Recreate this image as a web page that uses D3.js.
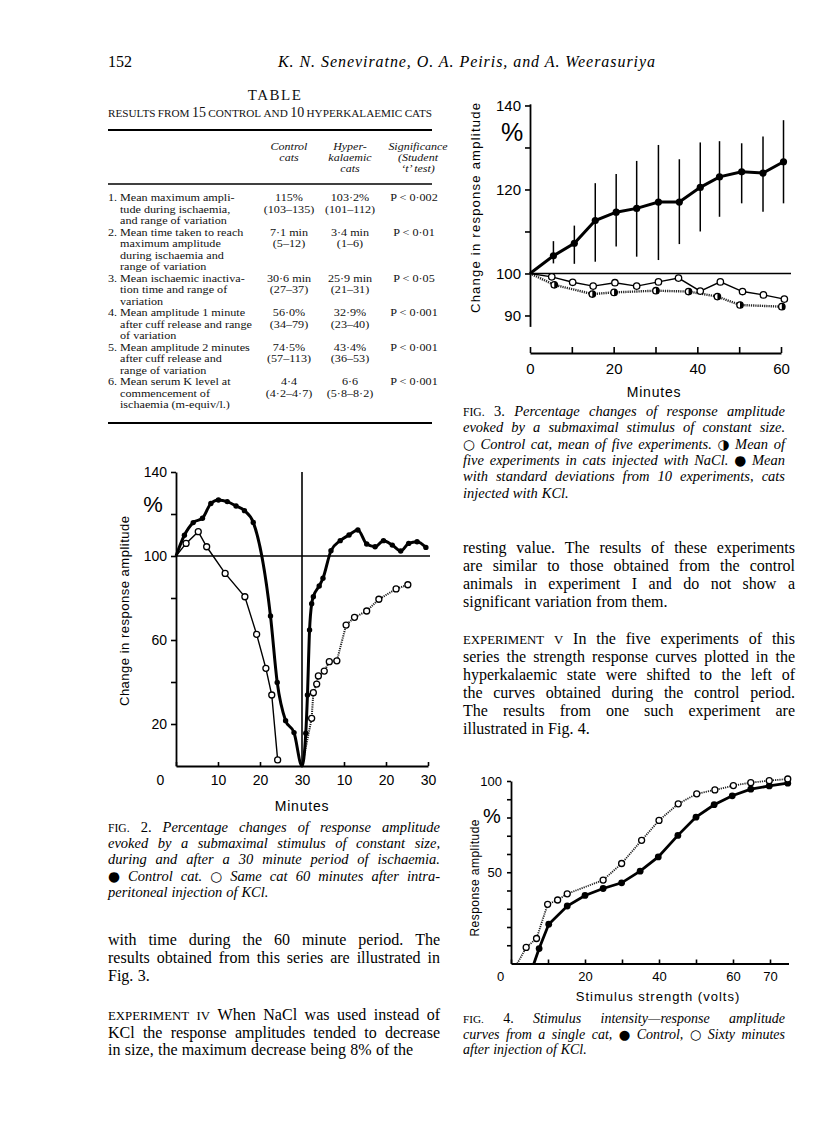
<!DOCTYPE html>
<html>
<head>
<meta charset="utf-8">
<script src="https://cdn.jsdelivr.net/npm/d3@7"></script>
<style>
  body { margin: 0; background: #fff; }
</style>
</head>
<body>
<svg id="page" width="816" height="1142"></svg>
<script>
// ---------- Fig. 2 : ischaemia and recovery (minutes 0-30, then 0-30 after release) ----------
const fig2CtrlMin = [0, 2.0, 4.1, 6.3, 8.3, 10.1, 12.2, 14.3, 16.3, 18.4, 22.5, 24.1, 26.1, 28.1, 30,
  30.9, 31.3, 31.8, 32.3, 32.7, 34.1, 35.0, 36.9, 39.1, 41.2, 43.3, 45.4, 47.4, 49.4, 51.5, 53.5, 55.4, 57.4, 59.5];
const fig2Ctrl = [100, 109.9, 115.9, 118, 125, 126.7, 125.9, 123.8, 121.6, 116, 71.4, 39.8, 21.6, 15.9, 0,
  15.6, 33.8, 64.8, 77.3, 80.6, 85.7, 89.4, 102.5, 107.3, 110, 112.4, 105.7, 104.4, 107.3, 105.2, 102.4, 106, 106.8, 104.1];
const fig2KclMinA = [0, 2.4, 5.3, 7.3, 11.7, 16.4, 19.2, 21.4, 22.8, 24.2];
const fig2KclA = [100, 106, 111.6, 104.4, 91.7, 80.6, 62.7, 46.5, 33.8, 2.9];
const fig2KclMinB = [30, 32.3, 32.7, 33.5, 33.9, 35.3, 36.5, 38.3, 40.5, 42.5, 45.4, 48.3, 52.4, 55.2];
const fig2KclB = [0, 22.7, 34.9, 39, 42.9, 45.2, 49.7, 50.1, 67.1, 70.8, 73.8, 79.4, 84.3, 86.3];
const fig2XTicks = [0, 10, 20, 30, 40, 50, 60];
const fig2XLabels = ["0", "10", "20", "30", "10", "20", "30"];
const fig2YTicks = [20, 40, 60, 80, 100, 120, 140];
const fig2YLabelled = [20, 60, 100, 140];

// ---------- Fig. 3 : 60 minute series ----------
const fig3KclMin = [0, 5.6, 10.6, 15.6, 20.6, 25.5, 30.7, 35.7, 40.7, 45.3, 50.6, 55.7, 60.6];
const fig3Kcl = [100, 104.2, 107.2, 112.6, 114.6, 115.5, 117, 117, 120.5, 123, 124.2, 123.9, 126.6];
const fig3KclLow = [100, 102.4, 102.3, 102.8, 106.4, 104, 103.2, 107, 110, 113.5, 116.7, 114.7, 116.7];
const fig3KclHigh = [100, 107.7, 111.4, 121.5, 123.7, 126.8, 130.6, 127.2, 131.2, 131.5, 131, 132.6, 136.5];
const fig3CtrlMin = [0, 5.2, 10.2, 15.1, 20.3, 25.5, 30.7, 35.5, 40.7, 45.5, 50.8, 55.8, 60.8];
const fig3Ctrl = [100, 99.2, 97.9, 97, 97.8, 97, 98, 98.9, 95.8, 98, 95.7, 94.9, 93.9];
const fig3NaclMin = [0, 5.8, 14.9, 20.1, 30.1, 37.9, 44.8, 50.2, 60.2];
const fig3Nacl = [100, 97.3, 95.1, 95.5, 95.9, 95.7, 94.5, 92.5, 92.1];
const fig3XTicks = [0, 10, 20, 30, 40, 50, 60];
const fig3XLabelled = [0, 20, 40, 60];
const fig3YTicks = [90, 100, 110, 120, 130, 140];
const fig3YLabelled = [90, 100, 120, 140];

// ---------- Fig. 4 : stimulus strength vs response ----------
const fig4CtrlVolts = [6.2, 7.6, 10.2, 15.2, 20, 24.9, 29.9, 34.9, 39.8, 45.1, 50, 54.9, 59.8, 64.8, 69.8, 74.8];
const fig4Ctrl = [0, 8.2, 21.5, 31.5, 37.3, 41.1, 44.2, 50.6, 58.4, 70.2, 80.2, 87, 91.9, 95.5, 97.3, 98.8];
const fig4KclVolts = [1.7, 4.1, 6.9, 9.9, 12.6, 15.2, 24.9, 29.9, 35.3, 40, 45.2, 50.2, 55.1, 60.1, 64.8, 69.8, 74.8];
const fig4Kcl = [0, 8.8, 13.7, 32.4, 34.8, 38.2, 45.7, 54.8, 67.5, 78.4, 87.5, 93, 95.1, 97.5, 99.1, 100.2, 101.1];
const fig4XTicks = [0, 10, 20, 30, 40, 50, 60, 70];
const fig4XLabelled = [0, 20, 40, 60, 70];
const fig4YTicks = [10, 20, 30, 40, 50, 60, 70, 80, 90, 100];
const fig4YLabelled = [50, 100];

// ---------- Table ----------
const tableNumbers = ["1.", "2.", "3.", "4.", "5.", "6."];
const tableLabels = [
  ["Mean maximum ampli-", "tude during ischaemia,", "and range of variation"],
  ["Mean time taken to reach", "maximum amplitude", "during ischaemia and", "range of variation"],
  ["Mean ischaemic inactiva-", "tion time and range of", "variation"],
  ["Mean amplitude 1 minute", "after cuff release and range", "of variation"],
  ["Mean amplitude 2 minutes", "after cuff release and", "range of variation"],
  ["Mean serum K level at", "commencement of", "ischaemia (m-equiv/l.)"]
];
const tableControl = ["115%", "7·1 min", "30·6 min", "56·0%", "74·5%", "4·4"];
const tableControlRange = ["(103–135)", "(5–12)", "(27–37)", "(34–79)", "(57–113)", "(4·2–4·7)"];
const tableHyper = ["103·2%", "3·4 min", "25·9 min", "32·9%", "43·4%", "6·6"];
const tableHyperRange = ["(101–112)", "(1–6)", "(21–31)", "(23–40)", "(36–53)", "(5·8–8·2)"];
const tableP = ["P < 0·002", "P < 0·01", "P < 0·05", "P < 0·001", "P < 0·001", "P < 0·001"];
const tableHeaders = [["Control", "cats"], ["Hyper-", "kalaemic", "cats"], ["Significance", "(Student", "‘t’ test)"]];

// ---------- Running text ("^" = small caps, "_" = upright in an italic line, "*" = symbol) ----------
const fig2Caption = [
  "^fig. _2. Percentage changes of response amplitude",
  "evoked by a submaximal stimulus of constant size,",
  "during and after a 30 minute period of ischaemia.",
  "*● Control cat. *○ Same cat 60 minutes after intra-",
  "peritoneal injection of KCl."
];
const fig3Caption = [
  "^fig. _3. Percentage changes of response amplitude",
  "evoked by a submaximal stimulus of constant size.",
  "*○ Control cat, mean of five experiments. *◑ Mean of",
  "five experiments in cats injected with NaCl. *● Mean",
  "with standard deviations from 10 experiments, cats",
  "injected with KCl."
];
const fig4Caption = [
  "^fig. _4. Stimulus intensity—response amplitude",
  "curves from a single cat, *● Control, *○ Sixty minutes",
  "after injection of KCl."
];
const leftText = [
  "with time during the 60 minute period. The",
  "results obtained from this series are illustrated in",
  "Fig. 3."
];
const leftText2 = [
  "^experiment ^iv When NaCl was used instead of",
  "KCl the response amplitudes tended to decrease",
  "in size, the maximum decrease being 8% of the"
];
const rightText = [
  "resting value. The results of these experiments",
  "are similar to those obtained from the control",
  "animals in experiment I and do not show a",
  "significant variation from them."
];
const rightText2 = [
  "^experiment ^v In the five experiments of this",
  "series the strength response curves plotted in the",
  "hyperkalaemic state were shifted to the left of",
  "the curves obtained during the control period.",
  "The results from one such experiment are",
  "illustrated in Fig. 4."
];

const serif = "'Liberation Serif', 'Times New Roman', serif";
const sans = "'Liberation Sans', Arial, sans-serif";
const svg = d3.select("#page");
const zip = (xs, ys) => xs.map((x, i) => ({ x: x, y: ys[i] }));

// one line of text, word by word, optionally justified to width
function textLine(g, x, y, width, line, size, italic, justify) {
  const words = line.split(" ");
  const nodes = words.map((w) => {
    const t = g.append("text").attr("y", y).attr("font-family", serif)
      .attr("font-size", size).attr("font-style", italic ? "italic" : "normal");
    if (w[0] === "^") {
      t.attr("font-style", "normal").attr("font-size", size * 0.8).text(w.slice(1).toUpperCase());
    } else if (w[0] === "_") {
      t.attr("font-style", "normal").text(w.slice(1));
    } else if (w[0] === "*") {
      t.attr("font-style", "normal").attr("font-family", "'DejaVu Sans', sans-serif")
        .attr("font-size", size * 0.95).text(w.slice(1));
    } else {
      t.text(w);
    }
    return t;
  });
  const widths = nodes.map((n) => n.node().getComputedTextLength());
  const gap = justify && words.length > 1
    ? (width - d3.sum(widths)) / (words.length - 1)
    : size * 0.27;
  let cx = x;
  nodes.forEach((n, i) => {
    n.attr("x", cx);
    cx += widths[i] + gap;
  });
}

function paragraph(lines, x, y0, step, width, size, italic) {
  const g = svg.append("g");
  lines.forEach((line, i) => {
    textLine(g, x, y0 + i * step, width, line, size, italic, i < lines.length - 1);
  });
}

// a column of lines held in one text element, widened a little like the printed face
function column(g, x, items, anchor, sx) {
  const t = g.append("text").attr("text-anchor", anchor)
    .attr("transform", `translate(${x},0) scale(${sx},1)`);
  t.selectAll("tspan").data(items).join("tspan")
    .attr("x", 0).attr("y", (d) => d.y).text((d) => d.s);
  return t;
}

// ---------- page header ----------
svg.append("text").attr("x", 108).attr("y", 67)
  .attr("font-family", serif).attr("font-size", 16).text("152");
svg.append("text").attr("x", 278).attr("y", 67)
  .attr("font-family", serif).attr("font-size", 16).attr("font-style", "italic")
  .attr("textLength", 377).attr("lengthAdjust", "spacing")
  .text("K. N. Seneviratne, O. A. Peiris, and A. Weerasuriya");

// ---------- table ----------
const tg = svg.append("g").attr("font-family", serif).attr("fill", "#111").attr("font-size", 10.3);
tg.append("text").attr("x", 275).attr("y", 100).attr("text-anchor", "middle")
  .attr("font-size", 15).attr("letter-spacing", 1.5).text("TABLE");
textLine(tg, 108, 117, 324, "^results ^from 15 ^control ^and 10 ^hyperkalaemic ^cats", 14, false, true);
[[130, 2], [184, 1.6], [423, 2]].forEach(([y, w]) => {
  tg.append("line").attr("x1", 108).attr("x2", 432).attr("y1", y).attr("y2", y)
    .attr("stroke", "#000").attr("stroke-width", w);
});

const headerX = [289, 350, 418];
tableHeaders.forEach((lines, c) => {
  column(tg, headerX[c], lines.map((s, i) => ({ s: s, y: 150 + i * 11.2 })), "middle", 1.2)
    .attr("font-size", 10).attr("font-style", "italic");
});

const lineY = (k) => 201.5 + k * 11.5;
const numItems = [], labelItems = [], ctrlItems = [], hypItems = [], pItems = [];
let lineIndex = 0;
tableLabels.forEach((lines, r) => {
  numItems.push({ s: tableNumbers[r], y: lineY(lineIndex) });
  lines.forEach((s, k) => labelItems.push({ s: s, y: lineY(lineIndex + k) }));
  ctrlItems.push({ s: tableControl[r], y: lineY(lineIndex) }, { s: tableControlRange[r], y: lineY(lineIndex + 1) });
  hypItems.push({ s: tableHyper[r], y: lineY(lineIndex) }, { s: tableHyperRange[r], y: lineY(lineIndex + 1) });
  pItems.push({ s: tableP[r], y: lineY(lineIndex) });
  lineIndex += lines.length;
});
column(tg, 108, numItems, "start", 1.18);
column(tg, 120, labelItems, "start", 1.18);
column(tg, 289, ctrlItems, "middle", 1.18);
column(tg, 350, hypItems, "middle", 1.18);
column(tg, 414, pItems, "middle", 1.18);

// ---------- shared helpers for the figures ----------
function styleAxis(g, size) {
  g.attr("font-family", sans).attr("font-size", size);
  g.select(".domain").attr("stroke-width", 1.8);
  g.selectAll(".tick line").attr("stroke-width", 1.6);
}

function openDots(g, data, x, y, r) {
  g.selectAll(null).data(data).join("circle")
    .attr("cx", (d) => x(d.x)).attr("cy", (d) => y(d.y)).attr("r", r)
    .attr("fill", "#fff").attr("stroke", "#000").attr("stroke-width", 1.3);
}

function filledDots(g, data, x, y, r) {
  g.selectAll(null).data(data).join("circle")
    .attr("cx", (d) => x(d.x)).attr("cy", (d) => y(d.y)).attr("r", r)
    .attr("fill", "#000");
}

function yLabel(text, cx, cy, len, size) {
  svg.append("text")
    .attr("transform", `translate(${cx},${cy}) rotate(-90)`)
    .attr("text-anchor", "middle").attr("dominant-baseline", "central")
    .attr("font-family", sans).attr("font-size", size)
    .attr("textLength", len).attr("lengthAdjust", "spacing")
    .text(text);
}

// ---------- Fig. 2 ----------
const x2 = d3.scaleLinear().domain([0, 60]).range([176, 428]);
const y2 = d3.scaleLinear().domain([0, 140]).range([766, 472]);
const g2 = svg.append("g");

g2.append("g").attr("transform", `translate(${x2(0)},0)`)
  .call(d3.axisLeft(y2).tickValues(fig2YTicks).tickSize(5).tickSizeOuter(0).tickPadding(4)
    .tickFormat((d) => (fig2YLabelled.includes(d) ? d : "")))
  .call((g) => styleAxis(g, 14));
g2.append("g").attr("transform", `translate(0,${y2(0)})`)
  .call(d3.axisBottom(x2).tickValues(fig2XTicks).tickSizeInner(-4).tickSizeOuter(0).tickPadding(9)
    .tickFormat((d, i) => fig2XLabels[i]))
  .call((g) => styleAxis(g, 14))
  .call((g) => g.selectAll(".tick").filter((d) => d === 0).select("text").attr("x", -16));

g2.append("line").attr("x1", x2(0)).attr("x2", 430).attr("y1", y2(100)).attr("y2", y2(100))
  .attr("stroke", "#000").attr("stroke-width", 1.6);
g2.append("line").attr("x1", x2(30)).attr("x2", x2(30)).attr("y1", y2(140)).attr("y2", y2(0))
  .attr("stroke", "#000").attr("stroke-width", 1.6);

const line2 = d3.line().x((d) => x2(d.x)).y((d) => y2(d.y));
const kclA = zip(fig2KclMinA, fig2KclA);
const kclB = zip(fig2KclMinB, fig2KclB);
const ctrl2 = zip(fig2CtrlMin, fig2Ctrl);
g2.append("path").datum(kclA).attr("d", line2).attr("fill", "none")
  .attr("stroke", "#000").attr("stroke-width", 1.4);
g2.append("path").datum(kclB).attr("d", line2).attr("fill", "none")
  .attr("stroke", "#222").attr("stroke-width", 2).attr("stroke-dasharray", "1.2,1");
g2.append("path").datum(ctrl2).attr("d", line2.curve(d3.curveMonotoneX)).attr("fill", "none")
  .attr("stroke", "#000").attr("stroke-width", 3);
filledDots(g2, ctrl2.filter((d, i) => i > 0 && d.y > 1), x2, y2, 2.7);
openDots(g2, kclA.filter((d, i) => i > 0), x2, y2, 3);
openDots(g2, kclB.filter((d, i) => i > 0), x2, y2, 3);

g2.append("text").attr("x", 153).attr("y", 504).attr("text-anchor", "middle")
  .attr("dominant-baseline", "central").attr("font-family", sans).attr("font-size", 22).text("%");
yLabel("Change in response amplitude", 124, 611, 190, 13);
g2.append("text").attr("x", 302).attr("y", 811).attr("text-anchor", "middle")
  .attr("font-family", sans).attr("font-size", 14).attr("letter-spacing", 0.8).text("Minutes");

// ---------- Fig. 3 ----------
const x3 = d3.scaleLinear().domain([0, 60]).range([530, 781]);
const y3 = d3.scaleLinear().domain([87.4, 140.4]).range([326.4, 103.8]);
const g3 = svg.append("g");

g3.append("g").attr("transform", `translate(${x3(0)},0)`)
  .call(d3.axisLeft(y3).tickValues(fig3YTicks).tickSize(5).tickSizeOuter(0).tickPadding(4)
    .tickFormat((d) => (fig3YLabelled.includes(d) ? d : "")))
  .call((g) => styleAxis(g, 15));
g3.append("g").attr("transform", "translate(0,353)")
  .call(d3.axisBottom(x3).tickValues(fig3XTicks).tickSizeInner(-6).tickSizeOuter(0).tickPadding(10)
    .tickFormat((d) => (fig3XLabelled.includes(d) ? d : "")))
  .call((g) => styleAxis(g, 15));

g3.append("line").attr("x1", x3(0)).attr("x2", 791).attr("y1", y3(100)).attr("y2", y3(100))
  .attr("stroke", "#000").attr("stroke-width", 1.6);

const kcl3 = fig3KclMin.map((t, i) => ({ x: t, y: fig3Kcl[i], lo: fig3KclLow[i], hi: fig3KclHigh[i] }));
const ctrl3 = zip(fig3CtrlMin, fig3Ctrl);
const nacl3 = zip(fig3NaclMin, fig3Nacl);
const line3 = d3.line().x((d) => x3(d.x)).y((d) => y3(d.y));

g3.selectAll(null).data(kcl3.slice(1)).join("line")
  .attr("x1", (d) => x3(d.x)).attr("x2", (d) => x3(d.x))
  .attr("y1", (d) => y3(d.lo)).attr("y2", (d) => y3(d.hi))
  .attr("stroke", "#000").attr("stroke-width", 1.5);
g3.append("path").datum(nacl3).attr("d", line3).attr("fill", "none")
  .attr("stroke", "#222").attr("stroke-width", 2.4).attr("stroke-dasharray", "1.2,1");
g3.append("path").datum(ctrl3).attr("d", line3).attr("fill", "none")
  .attr("stroke", "#000").attr("stroke-width", 1.4);
g3.append("path").datum(kcl3).attr("d", line3).attr("fill", "none")
  .attr("stroke", "#000").attr("stroke-width", 3);
filledDots(g3, kcl3.slice(1), x3, y3, 3.6);
openDots(g3, ctrl3.slice(1), x3, y3, 3.2);
const half = g3.selectAll(null).data(nacl3.slice(1)).join("g")
  .attr("transform", (d) => `translate(${x3(d.x)},${y3(d.y)})`);
half.append("circle").attr("r", 3.2).attr("fill", "#fff").attr("stroke", "#000").attr("stroke-width", 1.3);
half.append("path").attr("d", "M0,-3.2A3.2,3.2 0 0 1 0,3.2Z").attr("fill", "#000");

g3.append("text").attr("x", 512).attr("y", 132).attr("text-anchor", "middle")
  .attr("dominant-baseline", "central").attr("font-family", sans).attr("font-size", 25).text("%");
yLabel("Change in response amplitude", 475, 208, 210, 13);
g3.append("text").attr("x", 654).attr("y", 397).attr("text-anchor", "middle")
  .attr("font-family", sans).attr("font-size", 14).attr("letter-spacing", 0.8).text("Minutes");

// ---------- Fig. 4 ----------
const x4 = d3.scaleLinear().domain([0, 75]).range([511, 788.5]);
const y4 = d3.scaleLinear().domain([0, 100]).range([963.5, 781]);
const g4 = svg.append("g");

g4.append("g").attr("transform", `translate(${x4(0)},0)`)
  .call(d3.axisLeft(y4).tickValues(fig4YTicks).tickSize(4).tickSizeOuter(0).tickPadding(5)
    .tickFormat((d) => (fig4YLabelled.includes(d) ? d : "")))
  .call((g) => styleAxis(g, 13));
g4.append("g").attr("transform", `translate(0,${y4(0)})`)
  .call(d3.axisBottom(x4).tickValues(fig4XTicks).tickSizeInner(-4).tickSizeOuter(0).tickPadding(8)
    .tickFormat((d) => (fig4XLabelled.includes(d) ? d : "")))
  .call((g) => styleAxis(g, 13))
  .call((g) => g.selectAll(".tick").filter((d) => d === 0).select("text").attr("x", -11));

const ctrl4 = zip(fig4CtrlVolts, fig4Ctrl);
const kcl4 = zip(fig4KclVolts, fig4Kcl);
const line4 = d3.line().x((d) => x4(d.x)).y((d) => y4(d.y));
g4.append("path").datum(kcl4).attr("d", line4).attr("fill", "none")
  .attr("stroke", "#222").attr("stroke-width", 1.8).attr("stroke-dasharray", "1.2,1");
g4.append("path").datum(ctrl4).attr("d", line4).attr("fill", "none")
  .attr("stroke", "#000").attr("stroke-width", 2.8);
filledDots(g4, ctrl4.slice(1), x4, y4, 3.4);
openDots(g4, kcl4.slice(1), x4, y4, 3);

g4.append("text").attr("x", 492).attr("y", 816).attr("text-anchor", "middle")
  .attr("dominant-baseline", "central").attr("font-family", sans).attr("font-size", 20).text("%");
yLabel("Response amplitude", 475, 878, 117, 12);
g4.append("text").attr("x", 658).attr("y", 1001).attr("text-anchor", "middle")
  .attr("font-family", sans).attr("font-size", 13).attr("letter-spacing", 1).text("Stimulus strength (volts)");

// ---------- captions and body text ----------
paragraph(fig2Caption, 108, 832, 16.2, 332, 14.5, true);
paragraph(fig3Caption, 463, 416, 16.3, 322, 14.5, true);
paragraph(fig4Caption, 463, 1023, 15.7, 322, 14, true);
paragraph(leftText, 108, 945, 18, 332, 16, false);
paragraph(leftText2, 108, 1020, 17.7, 332, 16, false);
paragraph(rightText, 463, 553, 18, 332, 16, false);
paragraph(rightText2, 463, 644, 18, 332, 16, false);
</script>
</body>
</html>
